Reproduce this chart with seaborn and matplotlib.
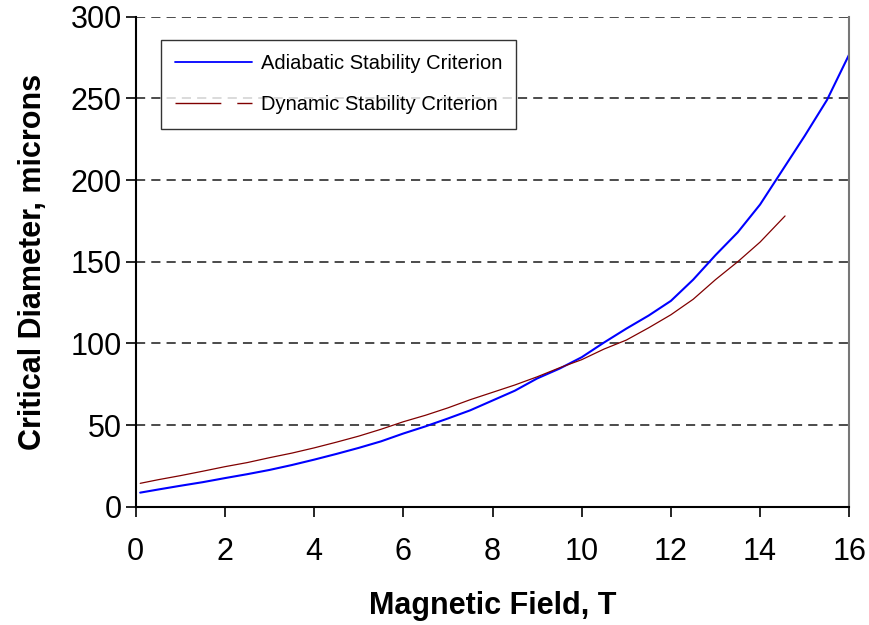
import numpy as np
import pandas as pd
import matplotlib
matplotlib.use("Agg")
import matplotlib.pyplot as plt
from matplotlib.lines import Line2D
import seaborn as sns

# Data
adiabatic_field = [0.1, 0.5, 1.0, 1.5, 2.0, 2.5, 3.0, 3.5, 4.0, 4.5, 5.0, 5.5, 6.0, 6.5,
                   7.0, 7.5, 8.0, 8.5, 9.0, 9.5, 10.0, 10.5, 11.0, 11.5, 12.0, 12.5,
                   13.0, 13.5, 14.0, 14.5, 15.0, 15.5, 16.0]
adiabatic_diam = [8.6, 10.5, 12.8, 15.0, 17.5, 19.9, 22.5, 25.5, 28.8, 32.3, 36.0, 40.0,
                  44.8, 49.2, 54.0, 59.0, 65.0, 71.0, 78.5, 84.5, 91.5, 100.5, 109.0,
                  117.0, 126.0, 139.0, 154.0, 168.0, 185.0, 206.0, 227.0, 249.0, 277.0]

dynamic_field = [0.1, 0.5, 1.0, 1.5, 2.0, 2.5, 3.0, 3.5, 4.0, 4.5, 5.0, 5.5, 6.0, 6.5,
                 7.0, 7.5, 8.0, 8.5, 9.0, 9.5, 10.0, 10.5, 11.0, 11.5, 12.0, 12.5,
                 13.0, 13.5, 14.0, 14.56]
dynamic_diam = [14.3, 16.5, 19.0, 21.7, 24.5, 27.0, 30.0, 32.8, 36.0, 39.5, 43.2, 47.4,
                52.0, 56.0, 60.5, 65.5, 70.0, 74.5, 79.5, 85.0, 90.0, 96.5, 102.0,
                109.5, 117.5, 127.0, 139.0, 150.0, 162.0, 178.0]

series_names = ["Adiabatic Stability Criterion", "Dynamic Stability Criterion"]
x_ticks = [0, 2, 4, 6, 8, 10, 12, 14, 16]
y_ticks = [0, 50, 100, 150, 200, 250, 300]

df = pd.concat([
    pd.DataFrame({"field": adiabatic_field, "diam": adiabatic_diam, "series": series_names[0]}),
    pd.DataFrame({"field": dynamic_field, "diam": dynamic_diam, "series": series_names[1]}),
])

sns.set_style("white")
plt.rcParams["font.family"] = ["Liberation Sans", "DejaVu Sans"]
plt.rcParams["text.color"] = "black"
plt.rcParams["axes.labelcolor"] = "black"
plt.rcParams["xtick.color"] = "black"
plt.rcParams["ytick.color"] = "black"

fig = plt.figure(figsize=(8.69, 6.25), dpi=100)
ax = fig.add_axes([0.1562, 0.1893, 0.8211, 0.7840])

colors = {series_names[0]: "#0000FF", series_names[1]: "#800000"}
sns.lineplot(data=df[df.series == series_names[0]], x="field", y="diam",
             color=colors[series_names[0]], linewidth=1.5, ax=ax, legend=False, sort=False)
sns.lineplot(data=df[df.series == series_names[1]], x="field", y="diam",
             color=colors[series_names[1]], linewidth=0.9, ax=ax, legend=False, sort=False)

ax.set_xlim(0, 16)
ax.set_ylim(0, 300)
ax.set_xticks(x_ticks)
ax.set_yticks(y_ticks)
ax.set_xticklabels([str(v) for v in x_ticks], fontsize=22)
ax.set_yticklabels([str(v) for v in y_ticks], fontsize=22)

# dashed horizontal gridlines
for v in y_ticks[1:]:
    ax.axhline(v, color="#1a1a1a", linestyle=(0, (6, 4)), linewidth=1.1, zorder=0)

for s in ["left", "bottom"]:
    ax.spines[s].set_visible(True)
    ax.spines[s].set_color("black")
    ax.spines[s].set_linewidth(1.5)
ax.spines["right"].set_visible(True)
ax.spines["right"].set_color("#777777")
ax.spines["right"].set_linewidth(1.5)
ax.spines["top"].set_visible(False)

ax.tick_params(axis="both", direction="out", length=7, width=1.2, color="black",
               bottom=True, left=True)
ax.tick_params(axis="y", pad=3)
ax.tick_params(axis="x", pad=15)

ax.set_xlabel("Magnetic Field, T", fontsize=22, fontweight="bold", labelpad=17)
ax.set_ylabel("Critical Diameter, microns", fontsize=22, fontweight="bold", labelpad=16)

handles = [
    Line2D([0], [0], color=colors[series_names[0]], linewidth=1.3),
    Line2D([0], [0], color=colors[series_names[1]], linewidth=1.0, linestyle=(0, (33, 11.5))),
]
leg = ax.legend(handles, series_names, loc="upper left", bbox_to_anchor=(0.0355, 0.952),
                fontsize=14.5, frameon=True, fancybox=False, handlelength=3.8,
                handletextpad=0.45, borderpad=0.7, labelspacing=1.1, borderaxespad=0)
leg.get_frame().set_edgecolor("black")
leg.get_frame().set_linewidth(1.0)

fig.savefig("out.png", dpi=100)
